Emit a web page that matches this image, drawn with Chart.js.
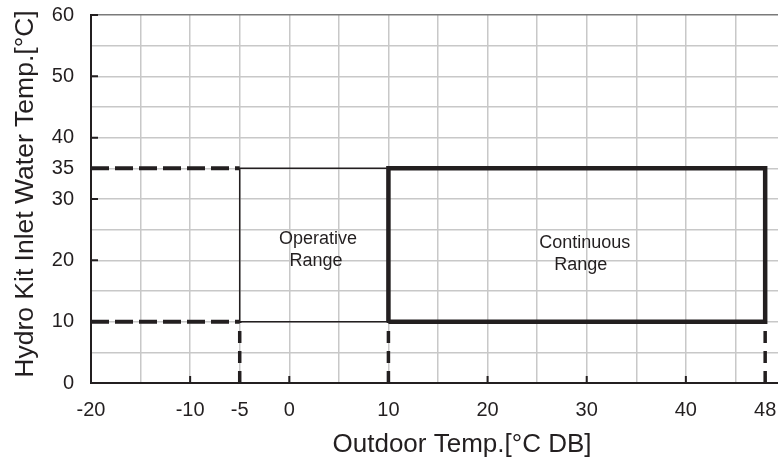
<!DOCTYPE html>
<html>
<head>
<meta charset="utf-8">
<script src="https://cdn.jsdelivr.net/npm/chart.js@4.4.1/dist/chart.umd.min.js"></script>
<style>
  html, body { margin: 0; padding: 0; background: #fff; overflow: hidden; }
  canvas { display: block; }
</style>
</head>
<body>
<canvas id="rangeChart" width="800" height="463"></canvas>
<script>
// axis ticks (grid every 5, labels only where printed)
const xGridTicks = [-20, -15, -10, -5, 0, 5, 10, 15, 20, 25, 30, 35, 40, 45, 48, 50];
const xTickLabels = [-20, -10, -5, 0, 10, 20, 30, 40, 48];
const yGridTicks = [0, 5, 10, 15, 20, 25, 30, 35, 40, 45, 50, 55, 60];
const yTickLabels = [0, 10, 20, 30, 35, 40, 50, 60];

// working limits
const outdoorMin = -20;
const operativeOutdoor = [-5, 10];
const continuousOutdoor = [10, 48];
const waterTemp = [10, 35];
const waterFloor = 0;

const INK = "#231f20";
const FONT = "'Liberation Sans', Arial, sans-serif";

const pts = (arr) => arr.map(([x, y]) => ({ x, y }));
const [opLo, opHi] = operativeOutdoor;
const [coLo, coHi] = continuousOutdoor;
const [wLo, wHi] = waterTemp;

const lineSet = (data, width, dash) => ({
  data: pts(data),
  showLine: true,
  borderColor: INK,
  borderWidth: width,
  borderDash: dash || [],
  pointRadius: 0,
  fill: false,
  tension: 0,
});

const datasets = [
  lineSet([[outdoorMin, wHi], [opLo, wHi]], 4, [18, 6]),
  lineSet([[outdoorMin, wLo], [opLo, wLo]], 4, [18, 6]),
  lineSet([[coLo, wHi], [opLo, wHi], [opLo, wLo], [coLo, wLo]], 1.5),
  lineSet([[coLo, wLo], [coLo, wHi], [coHi, wHi], [coHi, wLo], [coLo, wLo]], 4.5),
  lineSet([[opLo, waterFloor], [opLo, wLo]], 3.5, [12, 8]),
  lineSet([[coLo, waterFloor], [coLo, wLo]], 3.5, [12, 8]),
  lineSet([[coHi, waterFloor], [coHi, wLo]], 3.5, [12, 8]),
];

// region names, axis titles and the short inner tick marks
const annotate = {
  id: "annotate",
  afterDatasetsDraw(chart) {
    const { ctx, scales: { x, y }, chartArea: a } = chart;
    ctx.save();
    ctx.strokeStyle = INK;
    ctx.lineWidth = 2;
    ctx.beginPath();
    yTickLabels.forEach((v) => {
      if (v === 0) return;
      const py = y.getPixelForValue(v);
      ctx.moveTo(a.left, py);
      ctx.lineTo(a.left + 7, py);
    });
    xTickLabels.forEach((v) => {
      if (v === outdoorMin) return;
      const px = x.getPixelForValue(v);
      ctx.moveTo(px, a.bottom);
      ctx.lineTo(px, a.bottom - 7);
    });
    ctx.stroke();

    ctx.fillStyle = INK;
    ctx.textAlign = "center";
    ctx.textBaseline = "middle";
    ctx.font = "18px " + FONT;
    const opX = x.getPixelForValue(2.9), opY = y.getPixelForValue(21.7);
    ctx.fillText("Operative", opX, opY - 11);
    ctx.fillText("Range", opX - 2, opY + 11);
    const coX = x.getPixelForValue(29.8), coY = y.getPixelForValue(21);
    ctx.fillText("Continuous", coX, coY - 11);
    ctx.fillText("Range", coX - 4, coY + 11);

    ctx.font = "26px " + FONT;
    ctx.textBaseline = "alphabetic";
    ctx.fillText("Outdoor Temp.[°C DB]", 462, 452);
    ctx.translate(33, 194);
    ctx.rotate(-Math.PI / 2);
    ctx.font = "26.5px " + FONT;
    ctx.fillText("Hydro Kit Inlet Water Temp.[°C]", 0, 0);
    ctx.restore();
  },
};

new Chart(document.getElementById("rangeChart"), {
  type: "scatter",
  data: { datasets },
  options: {
    responsive: false,
    animation: false,
    layout: { padding: { top: 15, right: 13, left: 0, bottom: 0 } },
    plugins: { legend: { display: false }, tooltip: { enabled: false } },
    scales: {
      x: {
        type: "linear",
        min: -20,
        max: 50,
        afterBuildTicks: (s) => { s.ticks = xGridTicks.map((v) => ({ value: v })); },
        afterFit: (s) => { s.height = 80; },
        ticks: {
          autoSkip: false,
          maxRotation: 0,
          padding: 15,
          color: INK,
          font: { family: FONT, size: 20 },
          callback: (v) => (xTickLabels.includes(v) ? String(v) : ""),
        },
        grid: {
          drawTicks: false,
          lineWidth: 1.5,
          color: (c) => (c.tick && c.tick.value === 48 ? "rgba(0,0,0,0)" : "#c8c8c8"),
        },
        border: { color: INK, width: 2 },
      },
      y: {
        type: "linear",
        min: 0,
        max: 60,
        afterBuildTicks: (s) => { s.ticks = yGridTicks.map((v) => ({ value: v })); },
        afterFit: (s) => { s.width = 91; s.paddingTop = 0; s.paddingBottom = 0; },
        ticks: {
          padding: 17,
          color: INK,
          font: { family: FONT, size: 20 },
          callback: (v) => (yTickLabels.includes(v) ? String(v) : ""),
        },
        grid: {
          drawTicks: false,
          lineWidth: 1.5,
          color: (c) => (c.tick && c.tick.value === 60 ? "#7a7a7a" : "#c8c8c8"),
        },
        border: { color: INK, width: 2 },
      },
    },
  },
  plugins: [annotate],
});
</script>
</body>
</html>
